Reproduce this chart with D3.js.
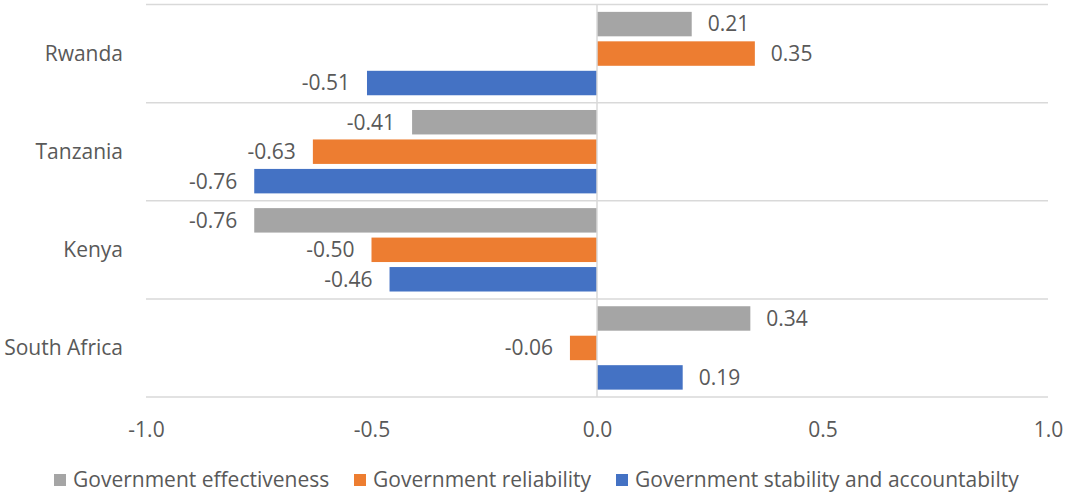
<!DOCTYPE html>
<html><head><meta charset="utf-8">
<script src="https://cdn.jsdelivr.net/npm/d3@7"></script>
<style>body{margin:0;background:#fff}svg{display:block}</style>
</head><body>
<svg id="c" width="1066" height="493"></svg>
<script>
const categories = ["Rwanda", "Tanzania", "Kenya", "South Africa"];
const seriesNames = ["Government effectiveness", "Government reliability", "Government stability and accountabilty"];
const effectiveness = [0.21, -0.41, -0.76, 0.34];
const reliability = [0.35, -0.63, -0.50, -0.06];
const stability = [-0.51, -0.76, -0.46, 0.19];
const seriesColors = ["#a5a5a5", "#ed7d31", "#4472c4"];
const xTicks = [-1.0, -0.5, 0.0, 0.5, 1.0];

const seriesValues = [effectiveness, reliability, stability];
const FONT = "'Open Sans', sans-serif";
const TXT = "#595959";
const FS = 21;

const svg = d3.select("#c");
const x = d3.scaleLinear().domain([-1, 1]).range([146, 1048]);
const y = d3.scaleBand().domain(categories).range([4.5, 397]).padding(0);
const yi = d3.scaleBand().domain(d3.range(3)).range([0, y.bandwidth()]).paddingInner(0.17).paddingOuter(0.25);

// gridlines at category boundaries
const bounds = categories.map(c => y(c)).concat([y.range()[1]]);
svg.append("g").selectAll("line").data(bounds).join("line")
  .attr("x1", x(-1)).attr("x2", x(1))
  .attr("y1", d => d).attr("y2", d => d)
  .attr("stroke", "#d9d9d9").attr("stroke-width", 1.5);

// bars
const data = [];
categories.forEach((c, ci) => seriesValues.forEach((s, si) => data.push({c, si, v: s[ci]})));
svg.append("g").selectAll("rect").data(data).join("rect")
  .attr("x", d => x(Math.min(0, d.v)))
  .attr("width", d => Math.abs(x(d.v) - x(0)))
  .attr("y", d => y(d.c) + yi(d.si))
  .attr("height", yi.bandwidth())
  .attr("fill", d => seriesColors[d.si]);

// zero axis line
svg.append("line").attr("x1", x(0)).attr("x2", x(0)).attr("y1", y.range()[0]).attr("y2", y.range()[1])
  .attr("stroke", "#d9d9d9").attr("stroke-width", 1.5);

// data labels
svg.append("g").selectAll("text").data(data).join("text")
  .attr("x", d => d.v >= 0 ? x(d.v) + 16 : x(d.v) - 17)
  .attr("y", d => y(d.c) + yi(d.si) + yi.bandwidth() / 2)
  .attr("dy", "0.35em")
  .attr("text-anchor", d => d.v >= 0 ? "start" : "end")
  .attr("font-family", FONT).attr("font-size", FS).attr("fill", TXT)
  .text(d => d.v.toFixed(2));

// category labels
svg.append("g").selectAll("text").data(categories).join("text")
  .attr("x", 123).attr("y", d => y(d) + y.bandwidth() / 2).attr("dy", "0.35em")
  .attr("text-anchor", "end")
  .attr("font-family", FONT).attr("font-size", FS).attr("fill", TXT)
  .text(d => d);

// x axis
const xAxis = d3.axisBottom(x).tickValues(xTicks).tickFormat(d3.format(".1f")).tickSize(0);
const gx = svg.append("g").attr("transform", "translate(0,420)").call(xAxis);
gx.select(".domain").remove();
gx.selectAll("text").attr("font-family", FONT).attr("font-size", FS).attr("fill", TXT).attr("dy", "0.35em").attr("y", 10)
  .text(d => d3.format(".1f")(d).replace("−", "-"));

// legend
const legendX = [54, 354, 616];
const lg = svg.append("g").selectAll("g").data(seriesNames).join("g")
  .attr("transform", (d, i) => `translate(${legendX[i]},480)`);
lg.append("rect").attr("x", 0).attr("y", -6).attr("width", 12).attr("height", 12).attr("fill", (d, i) => seriesColors[i]);
lg.append("text").attr("x", 19).attr("y", 0).attr("dy", "0.35em")
  .attr("font-family", FONT).attr("font-size", FS).attr("fill", TXT).text(d => d);
</script>
</body></html>
